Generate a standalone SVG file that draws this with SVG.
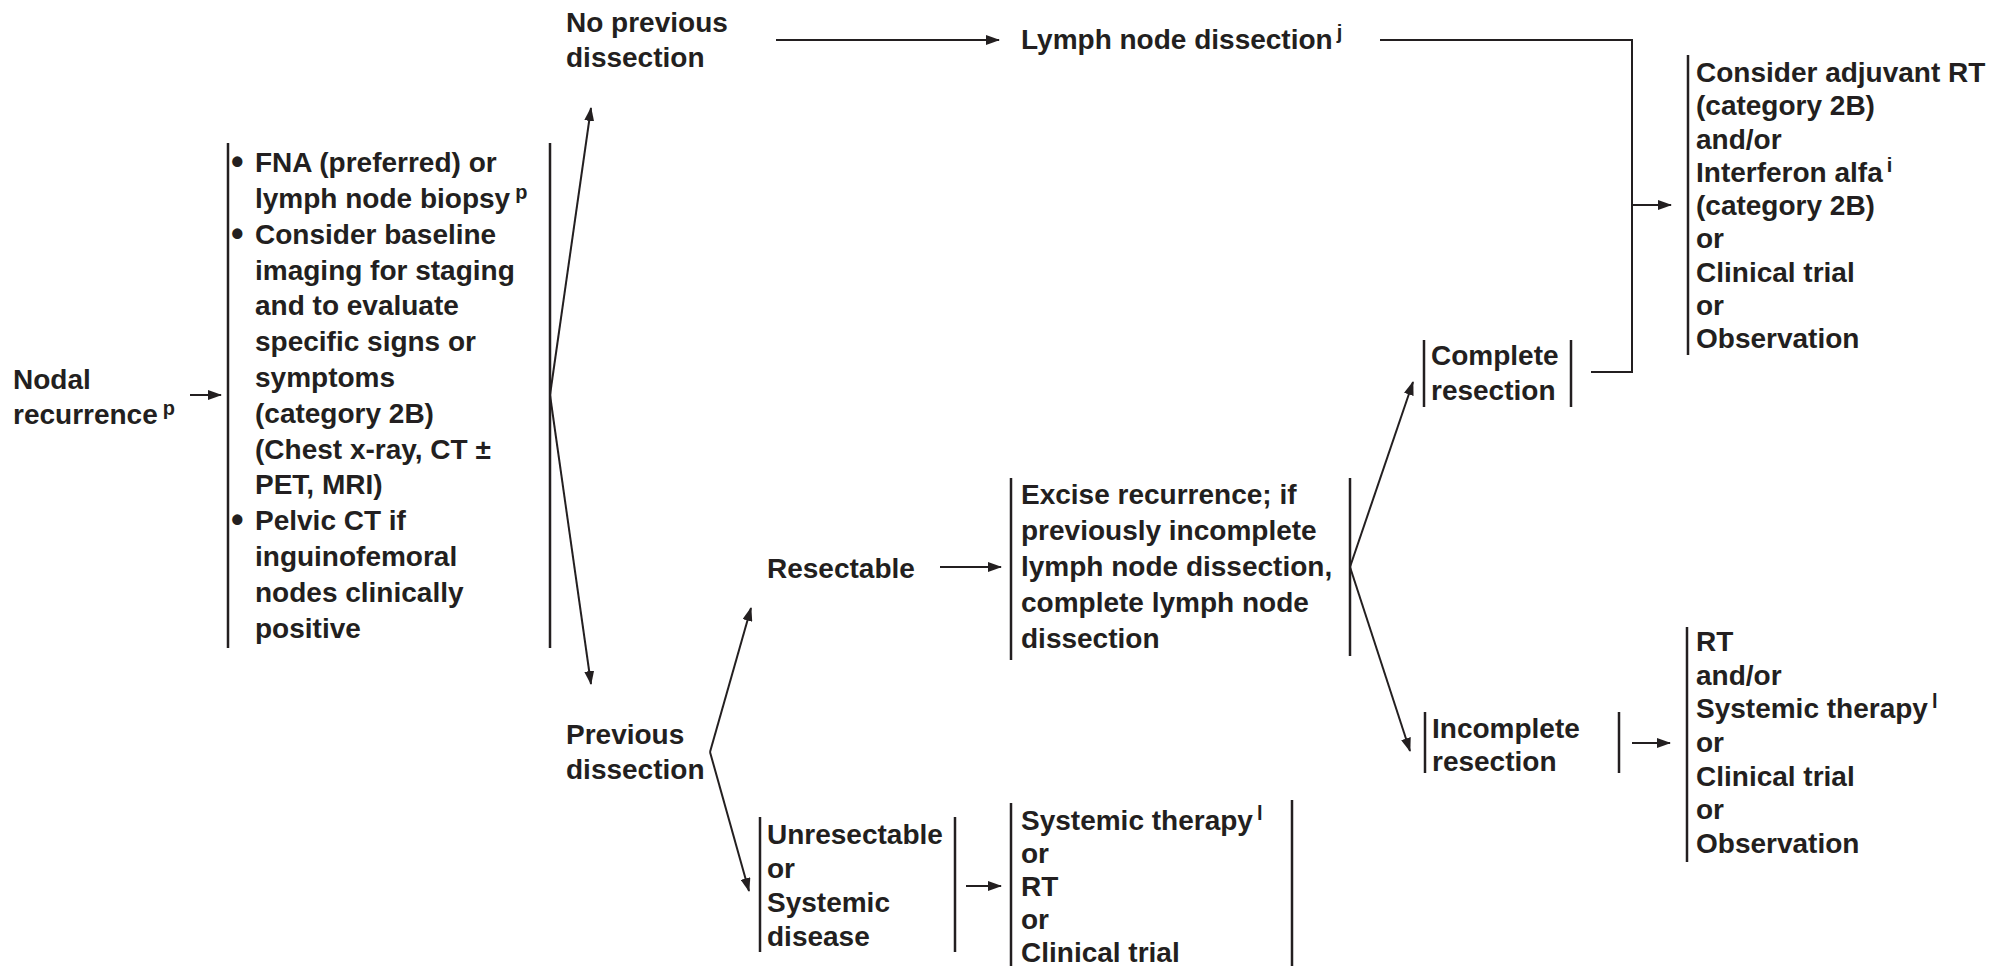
<svg xmlns="http://www.w3.org/2000/svg" width="2012" height="966" viewBox="0 0 2012 966">
<style>
.t{font-family:"Liberation Sans",Arial,Helvetica,sans-serif;font-weight:bold;font-size:28px;fill:#231f20}
.sup{font-size:20px}
.bul{font-size:36px}
.bar{stroke:#231f20;stroke-width:2.5;fill:none}
.ln{stroke:#231f20;stroke-width:2;fill:none}
.arr{marker-end:url(#ah)}
</style>
<defs>
<marker id="ah" markerUnits="userSpaceOnUse" markerWidth="14" markerHeight="10" refX="13" refY="5" orient="auto">
<path d="M0,0 L14,5 L0,10 Z" fill="#231f20"/>
</marker>
</defs>
<rect width="2012" height="966" fill="#ffffff"/>

<g id="connectors">
<line class="ln arr" x1="190" y1="395" x2="221" y2="395"/>
<line class="ln arr" x1="550" y1="395" x2="591" y2="108"/>
<line class="ln arr" x1="550" y1="395" x2="591" y2="684"/>
<line class="ln arr" x1="776" y1="40" x2="999" y2="40"/>
<polyline class="ln" points="1380,40 1632,40 1632,372 1591,372"/>
<line class="ln arr" x1="1632" y1="205" x2="1671" y2="205"/>
<line class="ln arr" x1="710" y1="752" x2="751" y2="608"/>
<line class="ln arr" x1="710" y1="752" x2="749" y2="891"/>
<line class="ln arr" x1="940" y1="567" x2="1001" y2="567"/>
<line class="ln arr" x1="966" y1="886" x2="1001" y2="886"/>
<line class="ln arr" x1="1350" y1="567" x2="1413" y2="382"/>
<line class="ln arr" x1="1350" y1="567" x2="1410" y2="751"/>
<line class="ln arr" x1="1632" y1="743" x2="1670" y2="743"/>
</g>

<g id="nodal">
<text class="t" x="13" y="389">Nodal</text>
<text class="t" x="13" y="424">recurrence<tspan class="sup" dx="5" dy="-9">p</tspan></text>
</g>

<g id="workup">
<line class="bar" x1="228" y1="143" x2="228" y2="648"/>
<line class="bar" x1="550" y1="143" x2="550" y2="648"/>
<text class="t bul" x="231" y="174">•</text>
<text class="t bul" x="231" y="246">•</text>
<text class="t bul" x="231" y="532">•</text>
<text class="t" x="255" y="172">FNA (preferred) or</text>
<text class="t" x="255" y="208">lymph node biopsy<tspan class="sup" dx="5" dy="-9">p</tspan></text>
<text class="t" x="255" y="244">Consider baseline</text>
<text class="t" x="255" y="280">imaging for staging</text>
<text class="t" x="255" y="315">and to evaluate</text>
<text class="t" x="255" y="351">specific signs or</text>
<text class="t" x="255" y="387">symptoms</text>
<text class="t" x="255" y="423">(category 2B)</text>
<text class="t" x="255" y="459">(Chest x-ray, CT ±</text>
<text class="t" x="255" y="494">PET, MRI)</text>
<text class="t" x="255" y="530">Pelvic CT if</text>
<text class="t" x="255" y="566">inguinofemoral</text>
<text class="t" x="255" y="602">nodes clinically</text>
<text class="t" x="255" y="638">positive</text>
</g>

<g id="no-previous">
<text class="t" x="566" y="32">No previous</text>
<text class="t" x="566" y="67">dissection</text>
</g>

<g id="lymph-node-dissection">
<text class="t" x="1021" y="49">Lymph node dissection<tspan class="sup" dx="4" dy="-10">j</tspan></text>
</g>

<g id="adjuvant">
<line class="bar" x1="1688" y1="55" x2="1688" y2="355"/>
<text class="t" x="1696" y="82">Consider adjuvant RT</text>
<text class="t" x="1696" y="115">(category 2B)</text>
<text class="t" x="1696" y="149">and/or</text>
<text class="t" x="1696" y="182">Interferon alfa<tspan class="sup" dx="4" dy="-10">i</tspan></text>
<text class="t" x="1696" y="215">(category 2B)</text>
<text class="t" x="1696" y="248">or</text>
<text class="t" x="1696" y="282">Clinical trial</text>
<text class="t" x="1696" y="315">or</text>
<text class="t" x="1696" y="348">Observation</text>
</g>

<g id="complete">
<line class="bar" x1="1424" y1="340" x2="1424" y2="407"/>
<line class="bar" x1="1571" y1="340" x2="1571" y2="407"/>
<text class="t" x="1431" y="365">Complete</text>
<text class="t" x="1431" y="400">resection</text>
</g>

<g id="previous">
<text class="t" x="566" y="744">Previous</text>
<text class="t" x="566" y="779">dissection</text>
</g>

<g id="resectable">
<text class="t" x="767" y="578">Resectable</text>
</g>

<g id="excise">
<line class="bar" x1="1011" y1="478" x2="1011" y2="660"/>
<line class="bar" x1="1350" y1="478" x2="1350" y2="656"/>
<text class="t" x="1021" y="504">Excise recurrence; if</text>
<text class="t" x="1021" y="540">previously incomplete</text>
<text class="t" x="1021" y="576">lymph node dissection,</text>
<text class="t" x="1021" y="612">complete lymph node</text>
<text class="t" x="1021" y="648">dissection</text>
</g>

<g id="unresectable">
<line class="bar" x1="760" y1="817" x2="760" y2="952"/>
<line class="bar" x1="955" y1="817" x2="955" y2="952"/>
<text class="t" x="767" y="844">Unresectable</text>
<text class="t" x="767" y="878">or</text>
<text class="t" x="767" y="912">Systemic</text>
<text class="t" x="767" y="946">disease</text>
</g>

<g id="systemic">
<line class="bar" x1="1011" y1="803" x2="1011" y2="966"/>
<line class="bar" x1="1292" y1="800" x2="1292" y2="966"/>
<text class="t" x="1021" y="830">Systemic therapy<tspan class="sup" dx="4" dy="-10">l</tspan></text>
<text class="t" x="1021" y="863">or</text>
<text class="t" x="1021" y="896">RT</text>
<text class="t" x="1021" y="929">or</text>
<text class="t" x="1021" y="962">Clinical trial</text>
</g>

<g id="incomplete">
<line class="bar" x1="1425" y1="712" x2="1425" y2="773"/>
<line class="bar" x1="1619" y1="712" x2="1619" y2="773"/>
<text class="t" x="1432" y="738">Incomplete</text>
<text class="t" x="1432" y="771">resection</text>
</g>

<g id="rt-options">
<line class="bar" x1="1687" y1="627" x2="1687" y2="862"/>
<text class="t" x="1696" y="651">RT</text>
<text class="t" x="1696" y="685">and/or</text>
<text class="t" x="1696" y="718">Systemic therapy<tspan class="sup" dx="4" dy="-10">l</tspan></text>
<text class="t" x="1696" y="752">or</text>
<text class="t" x="1696" y="786">Clinical trial</text>
<text class="t" x="1696" y="819">or</text>
<text class="t" x="1696" y="853">Observation</text>
</g>
</svg>
